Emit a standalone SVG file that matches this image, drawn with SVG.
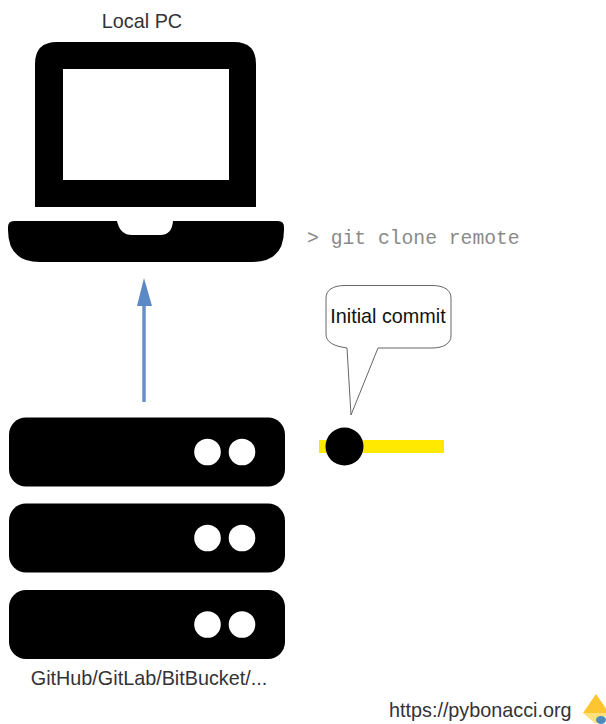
<svg xmlns="http://www.w3.org/2000/svg" width="606" height="724" viewBox="0 0 606 724">
<style>
.l{font-family:"Liberation Sans",Arial,sans-serif;font-size:19.800px;fill:#333338}
.k{fill:#000}
.w{fill:#fff}
</style>
<defs>
<g id="srv"><rect class="k" x="9" y="0" width="276" height="69" rx="17"/><circle class="w" cx="207.500" cy="34.500" r="13.300"/><circle class="w" cx="242" cy="34.500" r="13.300"/></g>
</defs>
<rect width="606" height="724" fill="#fff"/>
<g id="laptop">
<text class="l" x="142" y="28" text-anchor="middle">Local PC</text>
<path class="k" fill-rule="evenodd" d="M35 207V64Q35 42 57 42H234Q256 42 256 64V207ZM63 69V180H229V69Z"/>
<path class="k" d="M14 221H117Q120 235 132 235H160Q172 235 173 221H278Q284 221 284 227V230Q284 262 252 262H40Q8 262 8 230V227Q8 221 14 221Z"/>
</g>
<g id="connectors">
<path d="M144 402V304" fill="none" stroke="#6a90c8" stroke-width="3.500"/>
<path d="M144 278L152 306H137Z" fill="#5b89c6"/>
</g>
<g id="server-1"><use href="#srv" y="417.500"/></g>
<g id="server-2"><use href="#srv" y="503.500"/></g>
<g id="server-3"><use href="#srv" y="590"/></g>
<text id="server-label" class="l" x="149" y="685" text-anchor="middle">GitHub/GitLab/BitBucket/...</text>
<text id="command" x="307" y="244" font-family="'Liberation Mono','Courier New',monospace" font-size="19.700" fill="#8a8a8a">&gt; git clone remote</text>
<g id="commit">
<rect x="319" y="440" width="125" height="13" fill="#ffe900"/>
<circle cx="344.500" cy="446.500" r="19" fill="#000"/>
</g>
<g id="callout">
<path d="M347 348C333 346 326 342 326 334V298C326 290 333 285.500 345 285.500H432C444 285.500 451 290 451 298V336C451 343 444 348 432 348H378L351 415Z" fill="#fff" stroke="#666" stroke-width="1"/>
<text x="388" y="323" text-anchor="middle" font-family="'Liberation Sans',Arial,sans-serif" font-size="19.800" fill="#111">Initial commit</text>
</g>
<g id="credit">
<text class="l" x="389" y="717">https://pybonacci.org</text>
<path d="M596 694L609 713H583Z" fill="#fdc52f"/>
<path d="M583 713H609L596 724Z" fill="#ffe07a"/>
<ellipse cx="601" cy="720" rx="5" ry="4" fill="#4b8bbe"/>
</g>
</svg>
